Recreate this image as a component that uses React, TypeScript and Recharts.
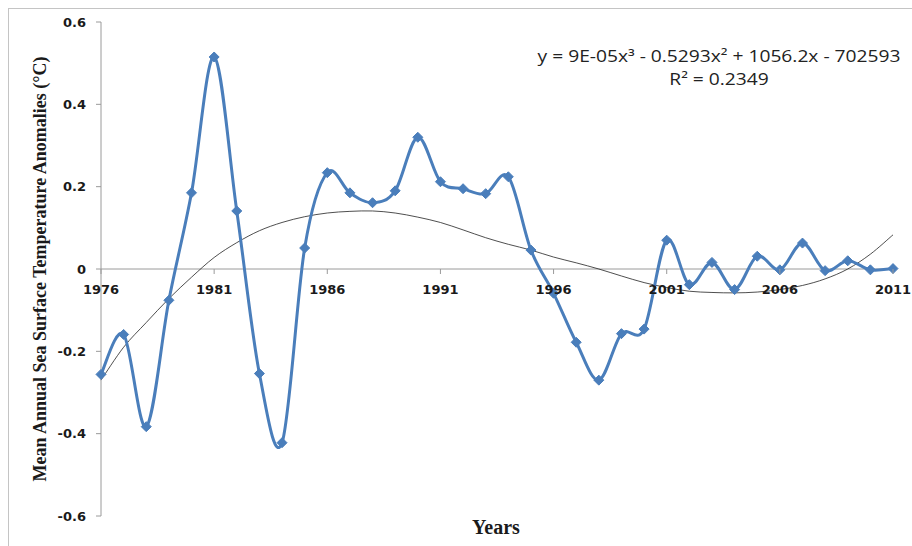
import React from 'react';
import { LineChart, Line, XAxis, YAxis, ReferenceLine } from 'recharts';

const years = [
  1976, 1977, 1978, 1979, 1980, 1981, 1982, 1983, 1984, 1985, 1986, 1987,
  1988, 1989, 1990, 1991, 1992, 1993, 1994, 1995, 1996, 1997, 1998, 1999,
  2000, 2001, 2002, 2003, 2004, 2005, 2006, 2007, 2008, 2009, 2010, 2011,
];

// mean annual SST anomaly (°C)
const sstAnomaly = [
  -0.256, -0.159, -0.383, -0.076, 0.185, 0.515, 0.141, -0.254, -0.422, 0.051,
  0.234, 0.185, 0.161, 0.19, 0.32, 0.212, 0.195, 0.183, 0.224, 0.046,
  -0.059, -0.178, -0.27, -0.157, -0.146, 0.07, -0.038, 0.016, -0.05, 0.031,
  -0.002, 0.063, -0.004, 0.02, -0.002, 0.001,
];

// polynomial trend line, sampled from the figure at each year
const trendValues = [
  -0.27, -0.19, -0.13, -0.072, -0.02, 0.028, 0.064, 0.093, 0.113, 0.127,
  0.136, 0.14, 0.141, 0.136, 0.126, 0.113, 0.095, 0.076, 0.06, 0.046,
  0.029, 0.015, 0.0, -0.017, -0.033, -0.045, -0.054, -0.057, -0.058, -0.056,
  -0.05, -0.04, -0.024, 0.0, 0.036, 0.083,
];

const xTicks = [1976, 1981, 1986, 1991, 1996, 2001, 2006, 2011];
const yTicks = [-0.6, -0.4, -0.2, 0, 0.2, 0.4, 0.6];

const chartData = years.map((year, i) => ({
  year,
  sst: sstAnomaly[i],
  trend: trendValues[i],
}));

const PAGE_W = 912;
const PAGE_H = 546;
const PAD = 8;
const W = PAGE_W - PAD;
const H = PAGE_H - PAD;
const MARGIN = { top: 14, right: 19, left: 33, bottom: 10 };
const Y_AXIS_W = 60;
const X_AXIS_H = 20;
const PLOT_H = H - MARGIN.top - MARGIN.bottom - X_AXIS_H;

const BLUE = '#4A7EBB';
const AXIS_GREY = '#9a9a9a';

// Excel-like smoothed line (Catmull-Rom through every point)
const excelSmooth = (context: any) => {
  let pts: [number, number][] = [];
  return {
    areaStart() {},
    areaEnd() {},
    lineStart() {
      pts = [];
    },
    lineEnd() {
      if (!pts.length) return;
      context.moveTo(pts[0][0], pts[0][1]);
      for (let i = 0; i < pts.length - 1; i++) {
        const p0 = pts[Math.max(i - 1, 0)];
        const p1 = pts[i];
        const p2 = pts[i + 1];
        const p3 = pts[Math.min(i + 2, pts.length - 1)];
        context.bezierCurveTo(
          p1[0] + (p2[0] - p0[0]) / 6,
          p1[1] + (p2[1] - p0[1]) / 6,
          p2[0] - (p3[0] - p1[0]) / 6,
          p2[1] - (p3[1] - p1[1]) / 6,
          p2[0],
          p2[1]
        );
      }
    },
    point(x: number, y: number) {
      pts.push([+x, +y]);
    },
  };
};

const Diamond = (props: any) => {
  const { cx, cy } = props;
  if (cx == null || cy == null) return <g />;
  const r = 5;
  return (
    <path
      d={`M${cx},${cy - r}L${cx + r},${cy}L${cx},${cy + r}L${cx - r},${cy}Z`}
      fill={BLUE}
      stroke={BLUE}
      strokeWidth={1}
    />
  );
};

// x axis crosses at y = 0, i.e. half way up the plot
const YearTick = (props: any) => {
  const { x, y, payload } = props;
  return (
    <g transform={`translate(${x},${y - PLOT_H / 2})`}>
      <line x1={0} y1={0} x2={0} y2={5} stroke={AXIS_GREY} />
      <text
        x={0}
        y={25}
        textAnchor="middle"
        fill="#1a1a1a"
        fontFamily="DejaVu Sans"
        fontWeight="bold"
        fontSize={13}
      >
        {payload.value}
      </text>
    </g>
  );
};

export default function App() {
  return (
    <div style={{ position: 'relative', width: PAGE_W, height: PAGE_H, overflow: 'hidden' }}>
      <style>{'body { margin: 0; } .recharts-wrapper, .recharts-surface { overflow: visible !important; }'}</style>
      <div
        style={{
          position: 'absolute', left: PAD, top: PAD, width: W, height: H,
          borderTop: '1px solid #c4c4c4', borderLeft: '1px solid #c4c4c4',
          boxSizing: 'border-box',
        }}
      />
      <div style={{ position: 'absolute', left: PAD, top: PAD }}>
        <LineChart width={W} height={H} data={chartData} margin={MARGIN}>
          <XAxis
            dataKey="year"
            type="number"
            domain={[1976, 2011]}
            ticks={xTicks}
            interval={0}
            height={X_AXIS_H}
            axisLine={false}
            tickLine={false}
            tickSize={0}
            tickMargin={0}
            tick={<YearTick />}
          />
          <YAxis
            type="number"
            domain={[-0.6, 0.6]}
            ticks={yTicks}
            interval={0}
            width={Y_AXIS_W}
            axisLine={{ stroke: AXIS_GREY }}
            tickLine={{ stroke: AXIS_GREY }}
            tickSize={5}
            tickMargin={10}
            tick={{ fill: '#1a1a1a', fontFamily: 'DejaVu Sans', fontWeight: 'bold', fontSize: 13 }}
          />
          <ReferenceLine y={0} stroke={AXIS_GREY} strokeWidth={1} />
          <Line
            dataKey="trend"
            type={excelSmooth as any}
            stroke="#222"
            strokeWidth={0.8}
            dot={false}
            activeDot={false}
            isAnimationActive={false}
          />
          <Line
            dataKey="sst"
            type={excelSmooth as any}
            stroke={BLUE}
            strokeWidth={3}
            dot={<Diamond />}
            activeDot={false}
            isAnimationActive={false}
          />
        </LineChart>
      </div>
      <div style={{ position: 'absolute', left: 40, top: 269, width: 0, height: 0 }}>
        <div
          style={{
            position: 'absolute', left: 0, top: 0,
            transform: 'translate(-50%, -50%) rotate(-90deg)',
            whiteSpace: 'nowrap',
            fontFamily: '"Liberation Serif", serif',
            fontWeight: 'bold',
            fontSize: 18,
            color: '#1a1a1a',
          }}
        >
          Mean Annual Sea Surface Temperature Anomalies (°C)
        </div>
      </div>
      <div
        style={{
          position: 'absolute', left: 496, top: 516, transform: 'translateX(-50%)',
          fontFamily: '"Liberation Serif", serif', fontWeight: 'bold', fontSize: 20,
          color: '#1a1a1a',
        }}
      >
        Years
      </div>
      <div style={{ position: 'absolute', left: 719, top: 45, width: 0, height: 0 }}>
        <div
          style={{
            position: 'absolute', left: 0, top: 0,
            transform: 'translateX(-50%) scaleX(1.2)',
            textAlign: 'center',
            fontFamily: '"Open Sans", sans-serif', fontSize: 16, lineHeight: '23px',
            color: '#222', whiteSpace: 'nowrap',
          }}
        >
          <div>y = 9E-05x³ - 0.5293x² + 1056.2x - 702593</div>
          <div>R² = 0.2349</div>
        </div>
      </div>
    </div>
  );
}
